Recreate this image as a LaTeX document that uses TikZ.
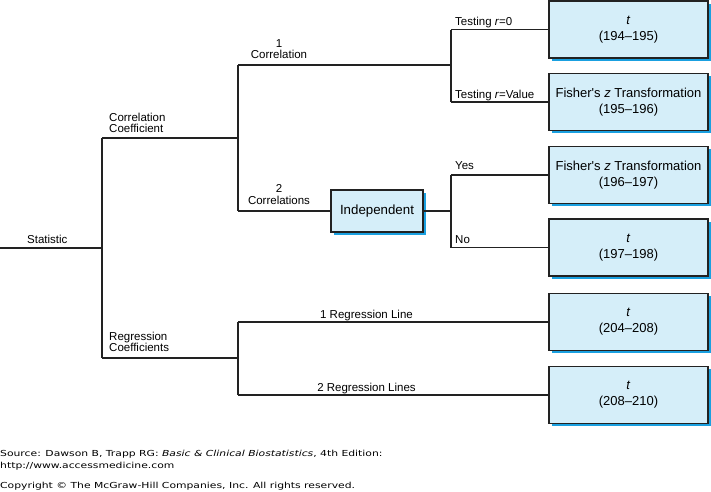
\documentclass[tikz,border=0pt]{standalone}
\usepackage{fontspec}
\setmainfont{Liberation Sans}
\newfontfamily\footfont{DejaVu Sans}
\usepackage{graphicx}
\definecolor{boxfill}{HTML}{D5EEF9}
\definecolor{boxshadow}{HTML}{1AA0E0}
\definecolor{linec}{HTML}{222222}
\begin{document}
\begin{tikzpicture}[x=1pt,y=-1pt,
  conn/.style={draw=linec,line width=1.3pt},
  lbl/.style={inner sep=0pt,text depth=0pt,font=\fontsize{11.5}{11.5}\selectfont},
  res/.style={draw=linec,fill=boxfill,line width=1.2pt,minimum width=159pt,minimum height=57pt,inner sep=0pt,align=center,
     font=\fontsize{13}{16}\selectfont},
  foot/.style={inner sep=0pt,anchor=base west,font=\footfont\fontsize{8.3}{10}\selectfont},
]
\useasboundingbox (0,0) rectangle (711,491);
% shadows
\foreach \yt in {1,73,146,219,293,366}{
  \fill[boxshadow] (551.5,\yt+2.5) rectangle (710.5,\yt+59.5);
}
\fill[boxshadow] (333.5,192.5) rectangle (425.5,234.5);
% result boxes
\node[res] (b1) at (628.5,29.5) {\textit{t}\\(194--195)};
\node[res] (b2) at (628.5,102) {Fisher\textquotesingle s \textit{z} Transformation\\(195--196)};
\node[res] (b3) at (628.5,175) {Fisher\textquotesingle s \textit{z} Transformation\\(196--197)};
\node[res] (b4) at (628.5,247.5) {\textit{t}\\(197--198)};
\node[res] (b5) at (628.5,322) {\textit{t}\\(204--208)};
\node[res] (b6) at (628.5,395) {\textit{t}\\(208--210)};
\node[draw=linec,fill=boxfill,line width=1.2pt,minimum width=92pt,minimum height=42pt,inner sep=0pt,
  font=\fontsize{13.3}{16}\selectfont] (ind) at (377,211) {Independent};
% tree coordinates
\coordinate (root) at (0,248);
\coordinate (s) at (102,248);
\coordinate (cc) at (102,138);
\coordinate (rc) at (102,358);
\coordinate (c) at (238,138);
\coordinate (c1) at (238,65);
\coordinate (c2) at (238,211);
\coordinate (t) at (451,65);
\coordinate (t0) at (451,29.5);
\coordinate (tv) at (451,102);
\coordinate (y) at (451,211);
\coordinate (yy) at (451,175);
\coordinate (yn) at (451,247.5);
\coordinate (r) at (238,358);
\coordinate (r1) at (238,322);
\coordinate (r2) at (238,395);
% connectors
\draw[conn] (root) -- (s);
\draw[conn] (cc) -- (rc);
\draw[conn] (cc) -- (c);
\draw[conn] (rc) -- (r);
\draw[conn] (c1) -- (c2);
\draw[conn] (c1) -- (t);
\draw[conn] (c2) -- (ind.west);
\draw[conn] (t0) -- (tv);
\draw[conn] (t0) -- (b1.west);
\draw[conn] (tv) -- (b2.west);
\draw[conn] (ind.east) -- (y);
\draw[conn] (yy) -- (yn);
\draw[conn] (yy) -- (b3.west);
\draw[conn] (yn) -- (b4.west);
\draw[conn] (r1) -- (r2);
\draw[conn] (r1) -- (b5.west);
\draw[conn] (r2) -- (b6.west);
% labels
\node[lbl,anchor=south west] (lstat) at (27,243.5) {Statistic};
\node[lbl,anchor=south west,align=left] (lcc) at (109,133) {Correlation\\Coefficient};
\node[lbl,anchor=south west,align=left] (lrc) at (109,352) {Regression\\Coefficients};
\node[lbl,anchor=south,align=center] (l1c) at (279,59) {1\\Correlation};
\node[lbl,anchor=south,align=center] (l2c) at (279,204.5) {2\\Correlations};
\node[lbl,anchor=base west] (lt0) at (455,25) {Testing \textit{r}=0};
\node[lbl,anchor=base west] (ltv) at (455,98.5) {Testing \textit{r}=Value};
\node[lbl,anchor=base west] (lyes) at (455,169.5) {Yes};
\node[lbl,anchor=base west] (lno) at (455,243) {No};
\node[lbl,anchor=base] (lr1) at (366.5,318) {1 Regression Line};
\node[lbl,anchor=base] (lr2) at (366.5,391) {2 Regression Lines};
% footer
\node[foot] (f1) at (0,456)
  {\scalebox{1.3}[1]{Source: Dawson B, Trapp RG: \textit{Basic \& Clinical Biostatistics}, 4th Edition:}};
\node[foot] (f2) at (0,468)
  {\scalebox{1.3}[1]{http://www.accessmedicine.com}};
\node[foot] (f3) at (0,488)
  {\scalebox{1.3}[1]{Copyright \textcopyright{} The McGraw-Hill Companies, Inc. All rights reserved.}};
\end{tikzpicture}
\end{document}
